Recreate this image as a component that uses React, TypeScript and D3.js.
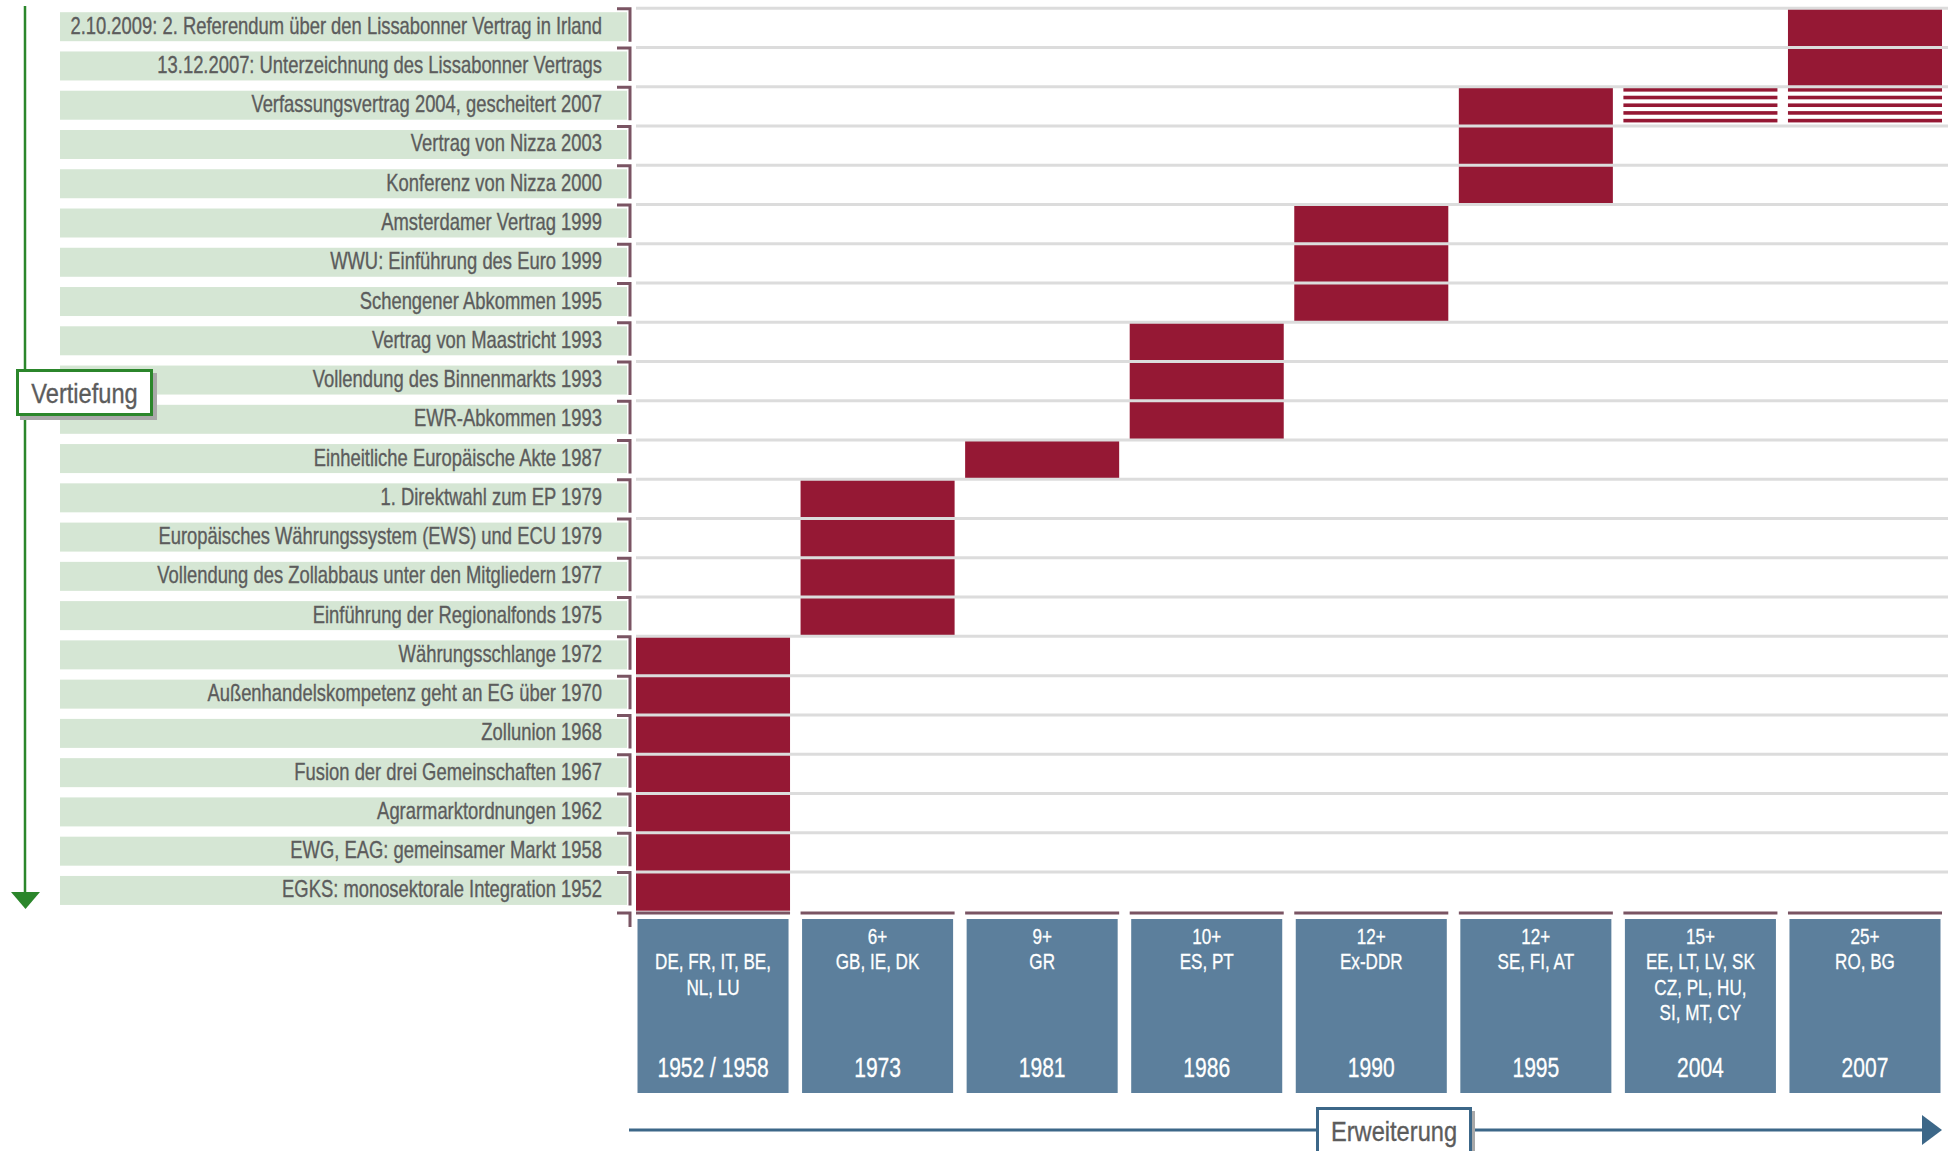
import * as d3 from 'd3';

// Vertiefung: events from top (latest) to bottom (earliest)
const events = [
  '2.10.2009: 2. Referendum über den Lissabonner Vertrag in Irland',
  '13.12.2007: Unterzeichnung des Lissabonner Vertrags',
  'Verfassungsvertrag 2004, gescheitert 2007',
  'Vertrag von Nizza 2003',
  'Konferenz von Nizza 2000',
  'Amsterdamer Vertrag 1999',
  'WWU: Einführung des Euro 1999',
  'Schengener Abkommen 1995',
  'Vertrag von Maastricht 1993',
  'Vollendung des Binnenmarkts 1993',
  'EWR-Abkommen 1993',
  'Einheitliche Europäische Akte 1987',
  '1. Direktwahl zum EP 1979',
  'Europäisches Währungssystem (EWS) und ECU 1979',
  'Vollendung des Zollabbaus unter den Mitgliedern 1977',
  'Einführung der Regionalfonds 1975',
  'Währungsschlange 1972',
  'Außenhandelskompetenz geht an EG über 1970',
  'Zollunion 1968',
  'Fusion der drei Gemeinschaften 1967',
  'Agrarmarktordnungen 1962',
  'EWG, EAG: gemeinsamer Markt 1958',
  'EGKS: monosektorale Integration 1952',
];

// Erweiterung: accession rounds
const rounds = ['1952 / 1958', '1973', '1981', '1986', '1990', '1995', '2004', '2007'];
const roundCounts = ['', '6+', '9+', '10+', '12+', '12+', '15+', '25+'];
const roundMembers = [
  ['DE, FR, IT, BE,', 'NL, LU'],
  ['GB, IE, DK'],
  ['GR'],
  ['ES, PT'],
  ['Ex-DDR'],
  ['SE, FI, AT'],
  ['EE, LT, LV, SK', 'CZ, PL, HU,', 'SI, MT, CY'],
  ['RO, BG'],
];

// which round each event belongs to (solid cells)
const eventRound = ['2007', '2007', '1995', '1995', '1995', '1990', '1990', '1990', '1986', '1986', '1986',
  '1981', '1973', '1973', '1973', '1973',
  '1952 / 1958', '1952 / 1958', '1952 / 1958', '1952 / 1958', '1952 / 1958', '1952 / 1958', '1952 / 1958'];

// striped cells (failed constitution treaty)
const hatchedEvents = ['Verfassungsvertrag 2004, gescheitert 2007', 'Verfassungsvertrag 2004, gescheitert 2007'];
const hatchedRounds = ['2004', '2007'];

const W = 1948;
const H = 1151;

const RED = '#951834';
const BLUE_BOX = '#5c7f9c';
const BLUE_LINE = '#3c6788';
const MAUVE = '#7a5463';
const GREEN = '#2b862b';
const GRID = '#dcdcdc';
const BAND = '#d5e6d4';
const TEXT = '#5c5c5c';
const FONT = "'Liberation Sans', Arial, sans-serif";

export default function App() {
  const y = d3.scaleBand<string>().domain(events).range([7.7, 910.7]);
  const x = d3.scaleBand<string>().domain(rounds).range([636, 1942]).paddingInner(0.064);
  const bw = x.bandwidth();
  const rh = y.bandwidth();
  const gridLeft = 636;
  const labelLeft = 60;
  const labelRight = 627;
  const bracketX = 630;
  const boxTop = 919;
  const boxBottom = 1093;
  const arrowY = 1130;

  return (
    <svg width={W} height={H} style={{ position: 'absolute', left: 0, top: 0, background: '#fff' }}
      fontFamily={FONT}>
      {/* label bands */}
      {events.map((e) => (
        <g key={e}>
          <rect x={labelLeft} y={y(e)! + 4.5} width={labelRight - labelLeft} height={29} fill={BAND} />
          <text transform={`translate(602,${y(e)! + 26}) scale(0.8,1)`} textAnchor="end"
            fontSize={23} fill={TEXT} stroke={TEXT} strokeWidth={0.35}>{e}</text>
          <path d={`M${bracketX - 13},${y(e)! + 1} H${bracketX} V${y(e)! + 34}`} fill="none"
            stroke={MAUVE} strokeWidth={3} />
        </g>
      ))}

      {/* solid cells */}
      {events.map((e, i) => (
        <rect key={'c' + i} x={x(eventRound[i])} y={y(e)} width={bw} height={rh} fill={RED} />
      ))}

      {/* striped cells */}
      {hatchedEvents.map((e, i) => (
        <g key={'h' + i}>
          {d3.range(5).map((k) => (
            <rect key={k} x={x(hatchedRounds[i])} y={y(e)! + 1.8 + k * 7.7} width={bw} height={3.6} fill={RED} />
          ))}
        </g>
      ))}

      {/* gridlines */}
      {events.map((e) => (
        <line key={'g' + e} x1={gridLeft} x2={W} y1={y(e)! + 0.5} y2={y(e)! + 0.5} stroke={GRID} strokeWidth={3} />
      ))}

      {/* bottom bracket + column top lines */}
      <path d={`M${bracketX - 13},913 H${bracketX} V927`} fill="none" stroke={MAUVE} strokeWidth={3} />
      {rounds.map((r) => (
        <line key={'t' + r} x1={x(r)!} x2={x(r)! + bw} y1={913} y2={913} stroke={MAUVE} strokeWidth={3} />
      ))}

      {/* accession boxes */}
      {rounds.map((r, i) => {
        const cx = x(r)! + bw / 2;
        return (
          <g key={'b' + r}>
            <rect x={x(r)! + 1.5} y={boxTop} width={bw - 3} height={boxBottom - boxTop} fill={BLUE_BOX} />
            {roundCounts[i] && (
              <text transform={`translate(${cx},943.5) scale(0.76,1)`} textAnchor="middle" fontSize={22.5}
                fill="#fff" stroke="#fff" strokeWidth={0.3}>{roundCounts[i]}</text>
            )}
            {roundMembers[i].map((m, k) => (
              <text key={k} transform={`translate(${cx},${969 + k * 25.5}) scale(0.76,1)`}
                textAnchor="middle" fontSize={22.5} fill="#fff" stroke="#fff" strokeWidth={0.3}>{m}</text>
            ))}
            <text transform={`translate(${cx},1077) scale(0.78,1)`} textAnchor="middle" fontSize={27}
              fill="#fff" stroke="#fff" strokeWidth={0.3}>{r}</text>
          </g>
        );
      })}

      {/* Vertiefung arrow */}
      <line x1={25} x2={25} y1={6} y2={895} stroke={GREEN} strokeWidth={2.5} />
      <path d="M11,892 L40,892 L25.5,909 Z" fill={GREEN} />
      <rect x={20} y={373} width={137} height={47} fill="#a8a8a8" />
      <rect x={17.5} y={370.5} width={134} height={44} fill="#fff" stroke={GREEN} strokeWidth={3} />
      <text transform="translate(84.5,403) scale(0.83,1)" textAnchor="middle" fontSize={28.5}
        fill={TEXT} stroke={TEXT} strokeWidth={0.35}>Vertiefung</text>

      {/* Erweiterung arrow */}
      <line x1={629} x2={1926} y1={arrowY} y2={arrowY} stroke={BLUE_LINE} strokeWidth={3} />
      <path d={`M1922,${arrowY - 15} L1942,${arrowY} L1922,${arrowY + 15} Z`} fill={BLUE_LINE} />
      <rect x={1320} y={1111} width={155} height={50} fill="#a8a8a8" />
      <rect x={1317.5} y={1108.5} width={153} height={50} fill="#fff" stroke={BLUE_LINE} strokeWidth={3} />
      <text transform="translate(1394,1141) scale(0.83,1)" textAnchor="middle" fontSize={28.5}
        fill={TEXT} stroke={TEXT} strokeWidth={0.35}>Erweiterung</text>
    </svg>
  );
}
